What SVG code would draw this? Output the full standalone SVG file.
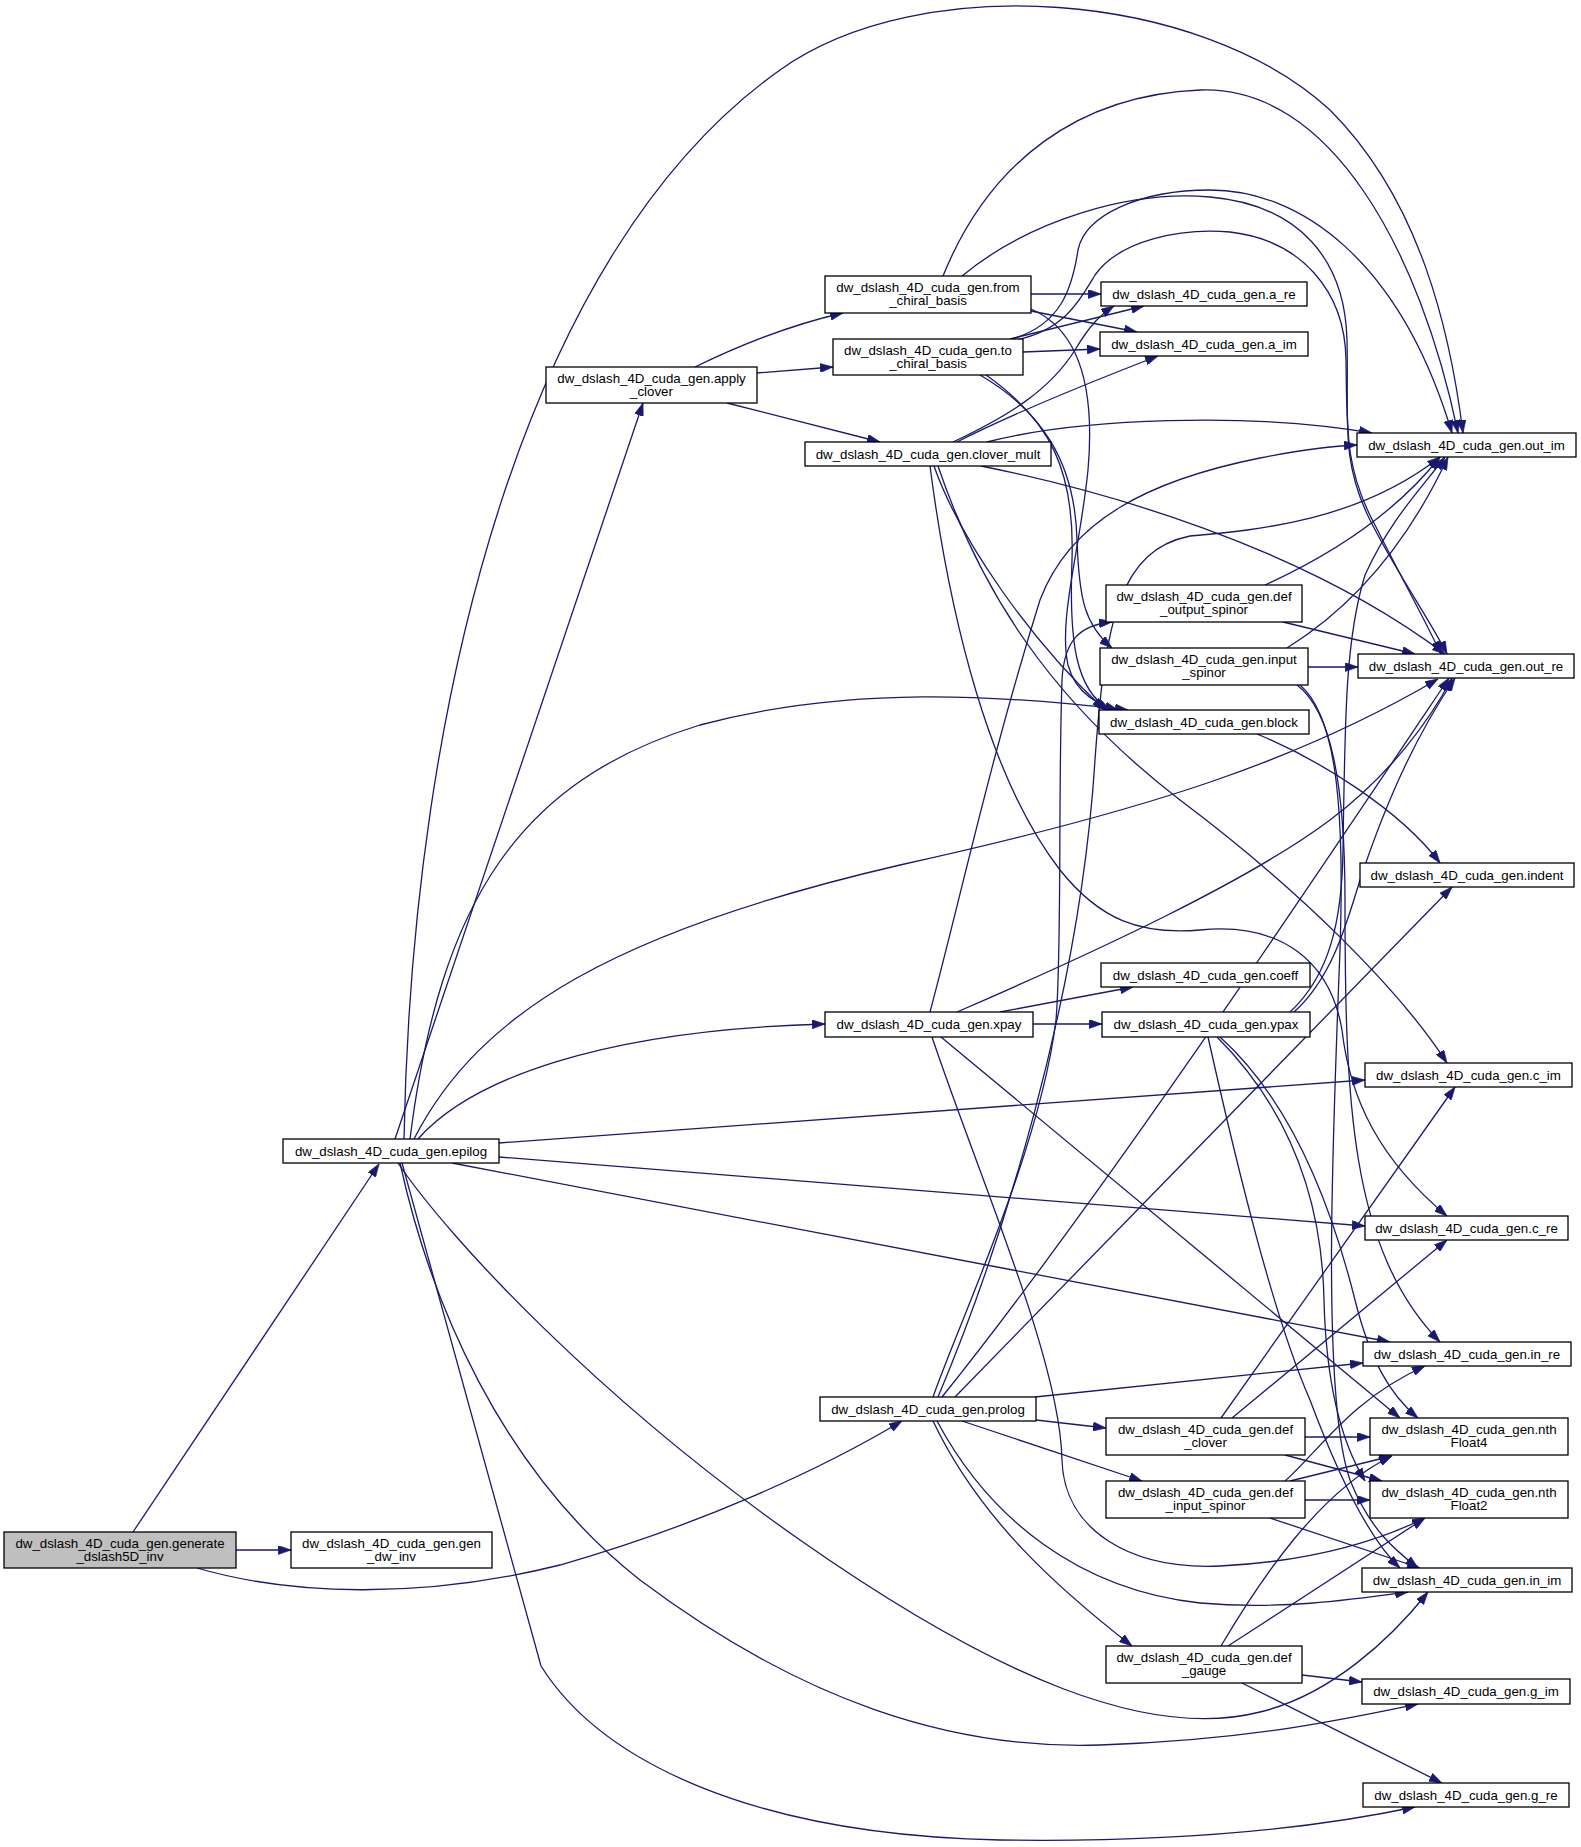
<svg xmlns="http://www.w3.org/2000/svg" width="1581" height="1847" viewBox="0 0 1581 1847">
<style>
.n rect{fill:#fff;stroke:#000;stroke-width:1.3}
.n text{font-family:"Liberation Sans",Arial,sans-serif;font-size:13.3px;fill:#000;text-anchor:middle}
#edges path{fill:none;stroke:#191970;stroke-width:1.3;marker-end:url(#ah)}
</style>
<defs>
<marker id="ah" viewBox="0 0 10 7" markerUnits="userSpaceOnUse" markerWidth="13" markerHeight="9" refX="10" refY="3.5" orient="auto">
<path d="M0,0 L10,3.5 L0,7 z" fill="#191970" stroke="#191970" stroke-width="0.5"/>
</marker>
</defs>
<rect width="1581" height="1847" fill="#fff"/>
<g id="edges">
<path d="M133,1532 L379,1164"/>
<path d="M236,1550 L291,1550"/>
<path d="M197,1568 C290,1595 420,1600 560,1565 C700,1525 820,1470 902,1421"/>
<path d="M395,1139 L643,403"/>
<path d="M404,1139 C412,700 525,250 780,70 C920,-30 1200,-10 1330,110 C1420,200 1450,330 1463,433"/>
<path d="M410,1139 C440,900 520,780 700,725 C850,685 1000,695 1128,710"/>
<path d="M414,1139 C480,1010 620,930 900,865 C1150,810 1300,760 1438,679"/>
<path d="M418,1139 C470,1080 600,1030 825,1024"/>
<path d="M499,1143 L1365,1080"/>
<path d="M499,1157 L1365,1226"/>
<path d="M452,1163 L1390,1342"/>
<path d="M398,1163 C450,1240 600,1400 800,1540 C1000,1680 1150,1740 1260,1712 C1330,1695 1390,1640 1428,1592"/>
<path d="M400,1163 C430,1300 500,1470 640,1580 C800,1700 950,1750 1100,1745 C1250,1740 1340,1720 1418,1704"/>
<path d="M402,1163 L541,1666 C600,1760 750,1835 1000,1840 C1200,1843 1330,1825 1415,1807"/>
<path d="M695,367 C740,345 790,325 843,313"/>
<path d="M757,373 L833,367"/>
<path d="M727,403 L880,442"/>
<path d="M1031,294 L1101,294"/>
<path d="M1031,311 L1137,332"/>
<path d="M943,276 C990,160 1080,95 1200,90 C1330,85 1420,250 1458,433"/>
<path d="M962,276 C1030,220 1130,190 1210,197 C1300,205 1345,260 1347,340 C1349,420 1340,460 1370,520 C1395,570 1430,620 1447,654"/>
<path d="M1031,309 C1080,330 1095,390 1088,470 C1080,550 1058,620 1068,665 C1076,695 1100,705 1118,710"/>
<path d="M1010,339 L1144,306"/>
<path d="M1023,352 L1100,349"/>
<path d="M1012,339 C1060,325 1072,290 1078,250 C1085,215 1140,190 1210,190 C1300,190 1400,260 1452,433"/>
<path d="M1016,340 C1065,330 1080,300 1095,275 C1120,240 1180,228 1230,232 C1300,240 1345,290 1346,360 C1347,430 1345,470 1375,525 C1400,575 1425,620 1441,654"/>
<path d="M980,375 C1040,410 1075,460 1077,540 C1079,600 1085,625 1112,648"/>
<path d="M986,375 C1050,420 1075,470 1072,560 C1069,640 1075,690 1110,710"/>
<path d="M953,442 C1010,415 1050,390 1075,350 C1090,325 1100,315 1114,306"/>
<path d="M957,442 C1000,420 1070,390 1158,356"/>
<path d="M987,442 C1080,418 1250,412 1372,433"/>
<path d="M981,466 C1100,490 1300,545 1445,654"/>
<path d="M934,466 C960,540 1030,640 1105,710"/>
<path d="M938,466 C980,590 1050,700 1180,800 C1300,890 1400,990 1447,1063"/>
<path d="M930,466 C950,620 990,780 1060,870 C1100,920 1140,935 1200,930 C1280,922 1330,960 1342,1030 C1350,1100 1380,1160 1447,1216"/>
<path d="M1265,585 C1320,560 1390,520 1440,457"/>
<path d="M1283,622 L1415,654"/>
<path d="M1308,667 L1358,667"/>
<path d="M1287,648 C1340,615 1400,560 1448,457"/>
<path d="M1297,685 C1330,710 1345,780 1345,900 C1345,1100 1350,1250 1440,1342"/>
<path d="M1300,685 C1335,715 1345,800 1340,950 C1332,1150 1322,1400 1350,1480 C1370,1530 1395,1550 1418,1568"/>
<path d="M1257,734 C1320,760 1400,810 1440,863"/>
<path d="M1000,1012 L1133,987"/>
<path d="M1033,1024 L1102,1024"/>
<path d="M957,1012 C1100,950 1250,880 1330,820 C1390,775 1430,720 1452,678"/>
<path d="M930,1012 C960,900 990,760 1040,600 C1070,520 1150,480 1260,458 C1300,450 1330,446 1357,445"/>
<path d="M941,1037 L1400,1418"/>
<path d="M932,1037 C980,1180 1060,1360 1062,1460 C1064,1530 1130,1570 1220,1566 C1300,1562 1370,1545 1425,1518"/>
<path d="M1294,1012 C1330,980 1345,930 1360,880 C1390,790 1420,730 1455,678"/>
<path d="M1290,1012 C1330,975 1342,920 1343,850 C1345,720 1345,640 1365,575 C1390,520 1420,490 1445,457"/>
<path d="M1220,1037 C1290,1100 1330,1200 1355,1300 C1370,1360 1390,1395 1418,1418"/>
<path d="M1217,1037 C1290,1110 1322,1200 1324,1300 C1326,1380 1340,1440 1365,1481"/>
<path d="M1208,1037 C1240,1180 1275,1320 1310,1400 C1340,1480 1370,1540 1400,1568"/>
<path d="M933,1397 C960,1320 1040,1150 1056,1020 C1062,950 1058,800 1062,680 C1064,640 1080,625 1112,622"/>
<path d="M942,1397 C1100,1200 1300,900 1449,678"/>
<path d="M938,1397 C1000,1250 1080,1000 1095,760 C1105,620 1120,550 1190,536 C1260,530 1360,520 1440,457"/>
<path d="M955,1397 L1452,887"/>
<path d="M1035,1397 L1363,1363"/>
<path d="M1036,1420 L1106,1428"/>
<path d="M962,1421 L1142,1481"/>
<path d="M933,1421 C980,1520 1060,1590 1132,1646"/>
<path d="M937,1421 C990,1520 1080,1590 1200,1603 C1280,1610 1350,1600 1408,1592"/>
<path d="M1305,1437 L1370,1437"/>
<path d="M1285,1455 L1382,1481"/>
<path d="M1221,1418 L1455,1087"/>
<path d="M1232,1418 L1447,1240"/>
<path d="M1290,1481 L1392,1456"/>
<path d="M1305,1500 L1370,1500"/>
<path d="M1270,1518 L1420,1568"/>
<path d="M1285,1481 C1320,1450 1350,1400 1425,1366"/>
<path d="M1221,1646 C1260,1580 1320,1490 1392,1456"/>
<path d="M1228,1646 L1425,1518"/>
<path d="M1302,1675 L1362,1682"/>
<path d="M1242,1683 L1442,1783"/>
</g>
<g id="GEN" class="n"><rect x="4" y="1532" width="232" height="36" style="fill:#bfbfbf"/><text x="120" y="1547.5">dw_dslash_4D_cuda_gen.generate</text><text x="120" y="1560.5">_dslash5D_inv</text></g>
<g id="GDW" class="n"><rect x="291" y="1532" width="201" height="36"/><text x="391.5" y="1547.5">dw_dslash_4D_cuda_gen.gen</text><text x="391.5" y="1560.5">_dw_inv</text></g>
<g id="EPI" class="n"><rect x="283" y="1139" width="216" height="24"/><text x="391" y="1156">dw_dslash_4D_cuda_gen.epilog</text></g>
<g id="APC" class="n"><rect x="546" y="367" width="211" height="36"/><text x="651.5" y="382.5">dw_dslash_4D_cuda_gen.apply</text><text x="651.5" y="395.5">_clover</text></g>
<g id="PRO" class="n"><rect x="820" y="1397" width="216" height="24"/><text x="928" y="1414">dw_dslash_4D_cuda_gen.prolog</text></g>
<g id="FCB" class="n"><rect x="825" y="276" width="206" height="37"/><text x="928" y="291.5">dw_dslash_4D_cuda_gen.from</text><text x="928" y="304.5">_chiral_basis</text></g>
<g id="TCB" class="n"><rect x="833" y="339" width="190" height="36"/><text x="928" y="354.5">dw_dslash_4D_cuda_gen.to</text><text x="928" y="367.5">_chiral_basis</text></g>
<g id="CLM" class="n"><rect x="805" y="442" width="246" height="24"/><text x="928" y="459">dw_dslash_4D_cuda_gen.clover_mult</text></g>
<g id="XPY" class="n"><rect x="825" y="1012" width="208" height="25"/><text x="929" y="1029">dw_dslash_4D_cuda_gen.xpay</text></g>
<g id="ARE" class="n"><rect x="1101" y="282" width="206" height="24"/><text x="1204" y="299">dw_dslash_4D_cuda_gen.a_re</text></g>
<g id="AIM" class="n"><rect x="1100" y="332" width="208" height="24"/><text x="1204" y="349">dw_dslash_4D_cuda_gen.a_im</text></g>
<g id="DOS" class="n"><rect x="1106" y="585" width="196" height="37"/><text x="1204" y="600.5">dw_dslash_4D_cuda_gen.def</text><text x="1204" y="613.5">_output_spinor</text></g>
<g id="INS" class="n"><rect x="1100" y="648" width="208" height="37"/><text x="1204" y="663.5">dw_dslash_4D_cuda_gen.input</text><text x="1204" y="676.5">_spinor</text></g>
<g id="BLK" class="n"><rect x="1099" y="710" width="210" height="24"/><text x="1204" y="727">dw_dslash_4D_cuda_gen.block</text></g>
<g id="COF" class="n"><rect x="1101" y="963" width="209" height="24"/><text x="1205.5" y="980">dw_dslash_4D_cuda_gen.coeff</text></g>
<g id="YPX" class="n"><rect x="1102" y="1012" width="208" height="25"/><text x="1206" y="1029">dw_dslash_4D_cuda_gen.ypax</text></g>
<g id="DCL" class="n"><rect x="1106" y="1418" width="199" height="37"/><text x="1205.5" y="1433.5">dw_dslash_4D_cuda_gen.def</text><text x="1205.5" y="1446.5">_clover</text></g>
<g id="DIS" class="n"><rect x="1106" y="1481" width="199" height="37"/><text x="1205.5" y="1496.5">dw_dslash_4D_cuda_gen.def</text><text x="1205.5" y="1509.5">_input_spinor</text></g>
<g id="DGA" class="n"><rect x="1106" y="1646" width="196" height="37"/><text x="1204" y="1661.5">dw_dslash_4D_cuda_gen.def</text><text x="1204" y="1674.5">_gauge</text></g>
<g id="OIM" class="n"><rect x="1357" y="433" width="219" height="24"/><text x="1466.5" y="450">dw_dslash_4D_cuda_gen.out_im</text></g>
<g id="ORE" class="n"><rect x="1358" y="654" width="216" height="24"/><text x="1466" y="671">dw_dslash_4D_cuda_gen.out_re</text></g>
<g id="IND" class="n"><rect x="1360" y="863" width="214" height="24"/><text x="1467" y="880">dw_dslash_4D_cuda_gen.indent</text></g>
<g id="CIM" class="n"><rect x="1365" y="1063" width="207" height="24"/><text x="1468.5" y="1080">dw_dslash_4D_cuda_gen.c_im</text></g>
<g id="CRE" class="n"><rect x="1365" y="1216" width="203" height="24"/><text x="1466.5" y="1233">dw_dslash_4D_cuda_gen.c_re</text></g>
<g id="IRE" class="n"><rect x="1363" y="1342" width="208" height="24"/><text x="1467" y="1359">dw_dslash_4D_cuda_gen.in_re</text></g>
<g id="NF4" class="n"><rect x="1370" y="1418" width="198" height="37"/><text x="1469" y="1433.5">dw_dslash_4D_cuda_gen.nth</text><text x="1469" y="1446.5">Float4</text></g>
<g id="NF2" class="n"><rect x="1370" y="1481" width="198" height="37"/><text x="1469" y="1496.5">dw_dslash_4D_cuda_gen.nth</text><text x="1469" y="1509.5">Float2</text></g>
<g id="IIM" class="n"><rect x="1362" y="1568" width="210" height="24"/><text x="1467" y="1585">dw_dslash_4D_cuda_gen.in_im</text></g>
<g id="GIM" class="n"><rect x="1362" y="1679" width="208" height="25"/><text x="1466" y="1696">dw_dslash_4D_cuda_gen.g_im</text></g>
<g id="GRE" class="n"><rect x="1363" y="1783" width="206" height="24"/><text x="1466" y="1800">dw_dslash_4D_cuda_gen.g_re</text></g>
</svg>
